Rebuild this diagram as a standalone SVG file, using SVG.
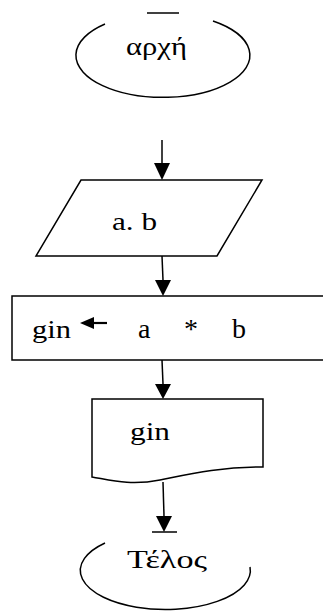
<svg xmlns="http://www.w3.org/2000/svg" width="323" height="612" viewBox="0 0 323 612">
<style>
.s{fill:none;stroke:#000;stroke-width:1.5}
.t{font-family:"Liberation Serif","Times New Roman",serif;font-size:26px;fill:#000}
.u{font-size:28px}
</style>
<rect width="323" height="612" fill="#fff"/>
<g id="start">
<path class="s" d="M105,24 A87,42 0 1 0 213,21"/>
<line class="s" x1="147" y1="13" x2="179" y2="13"/>
<text class="t" x="126" y="55" textLength="61" lengthAdjust="spacingAndGlyphs">αρχή</text>
</g>
<g id="input">
<polygon class="s" points="81,180 262,180 217,256 36,256"/>
<text class="t" x="112" y="230" textLength="45" lengthAdjust="spacingAndGlyphs">a. b</text>
</g>
<g id="process">
<path class="s" d="M323,296 L12,296 L12,360 L323,360"/>
<text class="t" x="32" y="338" textLength="39" lengthAdjust="spacingAndGlyphs">gin</text>
<path d="M80,323 L94,317 L94,329 Z" fill="#000"/>
<line x1="93" y1="323" x2="107" y2="323" stroke="#000" stroke-width="2.2"/>
<text class="t u" x="138" y="338">a</text>
<text class="t u" x="184" y="338">*</text>
<text class="t u" x="232" y="338">b</text>
</g>
<g id="output">
<path class="s" d="M92,399 L263,399 L263,467 C220,467 190,474 160,480 C130,486 110,480 92,477 Z"/>
<text class="t" x="130" y="440" textLength="40" lengthAdjust="spacingAndGlyphs">gin</text>
</g>
<g id="end">
<path class="s" d="M105,543 A85,39 0 1 0 250,567"/>
<line class="s" x1="152" y1="532" x2="177" y2="532"/>
<text class="t" x="127" y="568" textLength="80" lengthAdjust="spacingAndGlyphs">Τέλος</text>
</g>
<g id="connectors">
<g class="s">
<line x1="162" y1="140" x2="162" y2="163"/>
<line x1="162" y1="256" x2="163" y2="280"/>
<line x1="162" y1="360" x2="163" y2="384"/>
<line x1="163" y1="482" x2="164" y2="516"/>
</g>
<g fill="#000">
<path d="M154,163 L170,163 L162,180 Z"/>
<path d="M155,280 L171,280 L163,296 Z"/>
<path d="M155,384 L171,384 L163,399 Z"/>
<path d="M156,516 L172,516 L164,532 Z"/>
</g>
</g>
</svg>
